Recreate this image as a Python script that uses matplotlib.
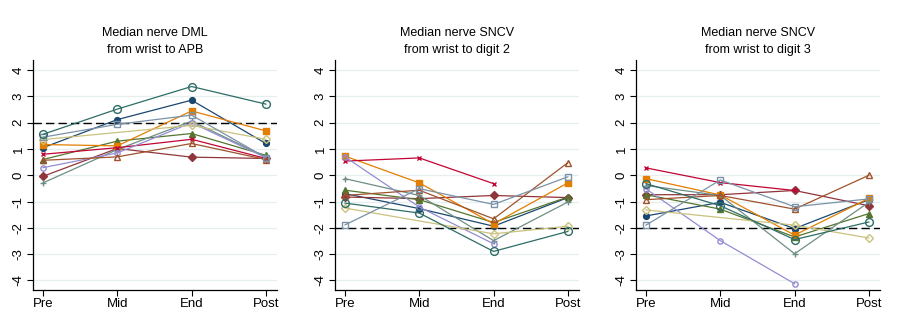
import numpy as np
import matplotlib
matplotlib.use('Agg')
import matplotlib.pyplot as plt

plt.rcParams['font.family'] = ['Liberation Sans', 'DejaVu Sans']

nan = np.nan
phases = ['Pre', 'Mid', 'End', 'Post']
titles = ['Median nerve DML\nfrom wrist to APB',
          'Median nerve SNCV\nfrom wrist to digit 2',
          'Median nerve SNCV\nfrom wrist to digit 3']
ref_lines = [2, -2, -2]

# one list per subject, values per panel (Pre, Mid, End, Post)
s_navy = [[1.05, 2.12, 2.86, 1.21], [-0.70, -1.27, -1.94, -0.85], [-1.55, -1.03, -2.03, -0.93]]
s_maroon = [[-0.04, 1.02, 0.69, 0.64], [-0.83, -0.89, -0.77, -0.85], [-0.74, -0.74, -0.58, -1.16]]
s_green = [[0.60, 1.30, 1.59, 0.76], [-0.57, -0.93, -1.80, -0.83], [-0.74, -1.29, -2.35, -1.46]]
s_orange = [[1.17, 1.12, 2.45, 1.69], [0.73, -0.29, -1.85, -0.29], [-0.13, -0.75, -2.28, -0.88]]
s_teal = [[-0.29, 0.98, 2.06, 0.70], [-0.13, -0.77, -2.49, -1.02], [-0.39, -0.77, -2.99, -1.03]]
s_cranberry = [[0.80, 1.05, 1.37, 0.64], [0.54, 0.66, -0.32, nan], [0.28, -0.28, -0.58, nan]]
s_lavender = [[0.29, 0.85, 2.00, 0.67], [0.70, -1.21, -2.61, nan], [-0.52, -2.49, -4.13, nan]]
s_khaki = [[1.36, nan, 1.90, 1.37], [-1.25, nan, -2.23, -1.94], [-1.32, nan, -1.90, -2.39]]
s_sienna = [[0.57, 0.70, 1.21, 0.60], [-0.77, -0.57, -1.66, 0.48], [-0.93, -0.77, -1.29, 0.00]]
s_blue = [[1.45, 1.94, 2.29, 0.67], [-1.89, -0.51, -1.11, -0.06], [-1.90, -0.18, -1.20, -0.90]]
s_emerald = [[1.56, 2.52, 3.38, 2.71], [-1.06, -1.44, -2.90, -2.14], [-0.32, -1.16, -2.45, -1.78]]

# Stata s2color-like styles: (data, colour, marker, filled, size)
series = [
    (s_navy, '#1a476f', 'o', True, 4.2),
    (s_maroon, '#90353b', 'D', True, 4.0),
    (s_green, '#55752f', '^', True, 4.8),
    (s_orange, '#e37e00', 's', True, 4.6),
    (s_teal, '#6e8e84', '+', True, 5.0),
    (s_cranberry, '#c10534', 'x', True, 3.5),
    (s_lavender, '#938dd2', 'o', False, 3.8),
    (s_khaki, '#cac27e', 'D', False, 4.2),
    (s_sienna, '#a0522d', '^', False, 5.0),
    (s_blue, '#7b92a8', 's', False, 4.6),
    (s_emerald, '#2d6d66', 'o', False, 5.6),
]

fig = plt.figure(figsize=(8.98, 3.24), dpi=100)
lefts = [33 / 898, 335 / 898, 636 / 898]
width = 244 / 898
bottom = 1 - 290 / 324
height = 230 / 324

x = np.arange(len(phases))
for i in range(3):
    ax = fig.add_axes([lefts[i], bottom, width, height])
    for yy in range(-4, 5):
        ax.axhline(yy, color='#e6eeef', lw=0.9, zorder=0)
    ax.axhline(ref_lines[i], color='black', lw=1.0, ls=(0, (6, 3)), zorder=1)
    for data, col, mk, filled, ms in series:
        y = np.array(data[i], dtype=float)
        ok = ~np.isnan(y)
        ax.plot(x[ok], y[ok], color=col, lw=0.9, marker=mk, ms=ms,
                markerfacecolor=col if filled else 'none',
                markeredgecolor=col, markeredgewidth=1.0, zorder=2)
    ax.set_xlim(-0.135, 3.15)
    ax.set_ylim(-4.37, 4.39)
    ax.set_xticks(x)
    ax.set_xticklabels(phases, fontsize=9.5)
    ax.set_yticks(range(-4, 5))
    ax.set_yticklabels([str(v) for v in range(-4, 5)], rotation=90,
                       va='center', fontsize=9.5)
    ax.tick_params(axis='both', length=4, width=0.8, pad=2)
    for side in ['top', 'right']:
        ax.spines[side].set_visible(False)
    for side in ['left', 'bottom']:
        ax.spines[side].set_linewidth(0.9)
    ax.set_title(titles[i], fontsize=9, pad=5, linespacing=1.55)

fig.savefig('out.png', dpi=100)
